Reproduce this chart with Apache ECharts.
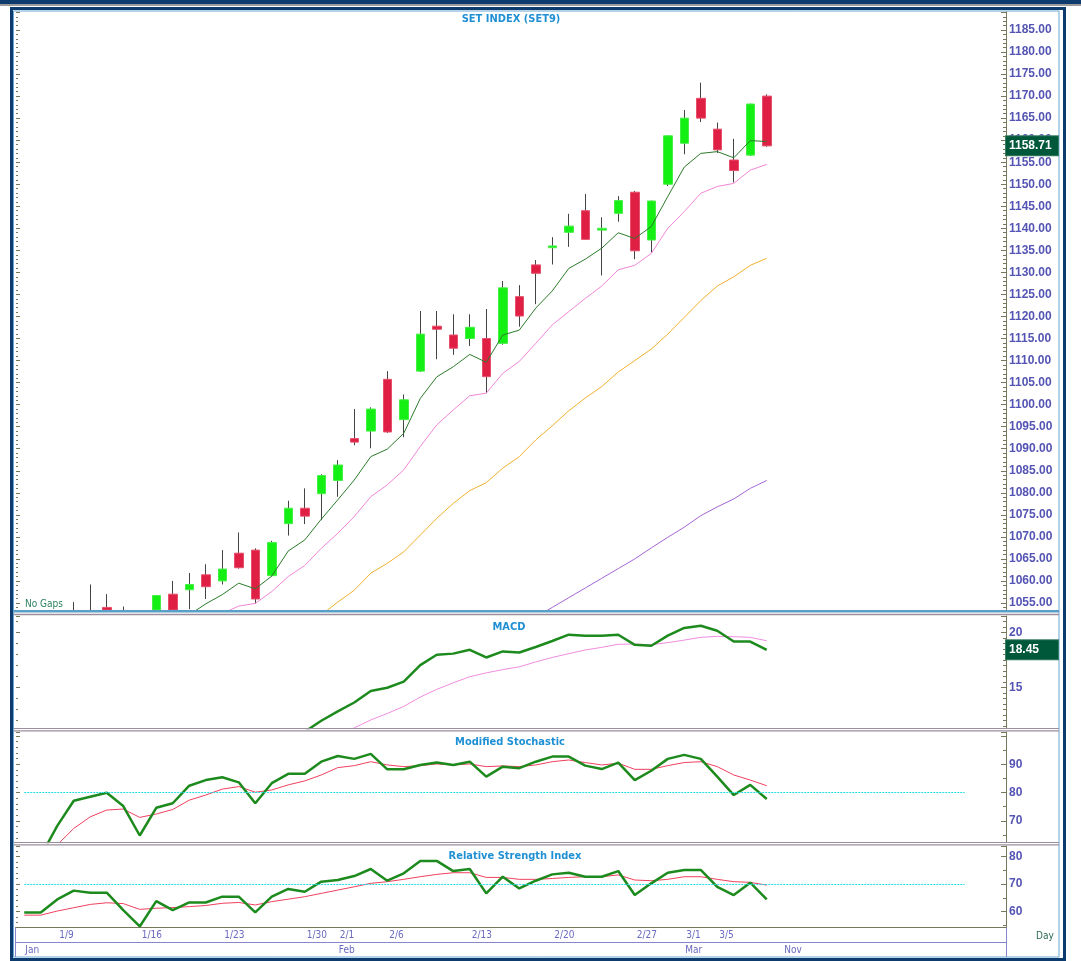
<!DOCTYPE html>
<html>
<head>
<meta charset="utf-8">
<title>SET INDEX (SET9)</title>
<script src="https://cdn.jsdelivr.net/npm/echarts@6/dist/echarts.min.js"></script>
<style>
  html, body { margin: 0; padding: 0; background: #fff; }
  #chart { width: 1081px; height: 961px; }
</style>
</head>
<body>
<div id="chart"></div>
<script>
// trading days on the chart
const dates = ['1/5','1/6','1/9','1/10','1/11','1/12','1/13','1/16','1/17','1/18','1/19','1/20',
  '1/23','1/24','1/25','1/26','1/27','1/30','1/31','2/1','2/2','2/3','2/6','2/7','2/8','2/9','2/10',
  '2/13','2/14','2/15','2/16','2/17','2/20','2/21','2/22','2/23','2/24','2/27','2/28','2/29',
  '3/1','3/2','3/5','3/6','3/7','3/8'];
// empty slots to the right of the last bar
const futureSlots = ['f1','f2','f3','f4','f5','f6','f7','f8','f9','f10','f11','f12','f13','f14'];

// OHLC
const opens = [1038, 1036, 1040, 1047, 1051, 1054.0, 1049, 1050, 1042, 1057.0, 1058.0, 1061.4,
  1060.0, 1066.3, 1067.0, 1061.2, 1073.0, 1076.5, 1079.8, 1082.8, 1092.3, 1094.0, 1105.75, 1096.6,
  1107.6, 1117.8, 1115.8, 1115.0, 1115.0, 1113.9, 1124.5, 1131.7, 1135.6, 1139.1, 1144.0, 1139.6,
  1143.4, 1148.2, 1137.35, 1150.0, 1159.3, 1169.5, 1162.5, 1155.5, 1156.6, 1170.0];
const closes = [1036, 1039, 1048, 1051, 1049, 1049, 1051, 1041, 1056.7, 1050, 1059.2, 1058.7,
  1062.7, 1063.0, 1055.9, 1068.7, 1076.5, 1074.7, 1083.9, 1086.3, 1091.5, 1099.0, 1093.8, 1101.1,
  1116.0, 1117.1, 1112.8, 1117.55, 1106.35, 1126.5, 1120.1, 1129.8, 1136.0, 1140.5, 1137.5, 1140.0,
  1146.3, 1134.9, 1146.2, 1161.0, 1165.0, 1165.0, 1157.8, 1153.1, 1168.2, 1158.71];
const lows = [1032, 1034, 1039, 1045, 1045, 1047, 1046, 1039, 1041, 1048, 1053.6, 1055.9,
  1059.2, 1062.8, 1054.9, 1061.0, 1070.3, 1072.9, 1073.8, 1079.1, 1090.8, 1090.1, 1093.6, 1092.6,
  1107.4, 1110.3, 1111.3, 1113.3, 1102.6, 1113.6, 1117.7, 1122.8, 1131.8, 1135.8, 1137.4, 1129.3,
  1141.5, 1133.0, 1134.5, 1149.6, 1156.8, 1164.1, 1157.1, 1150.4, 1156.4, 1158.5];
const highs = [1041, 1042, 1050, 1055.2, 1059.2, 1057.0, 1054.2, 1052, 1056.7, 1060.0, 1061.8, 1063.8,
  1067.0, 1071.0, 1067.4, 1069.1, 1078.2, 1081.0, 1084.2, 1087.4, 1099.0, 1099.4, 1107.6, 1102.3,
  1121.25, 1121.25, 1120.5, 1120.5, 1121.7, 1128.05, 1127.1, 1132.8, 1138.0, 1143.3, 1147.8, 1142.5,
  1147.3, 1148.5, 1146.3, 1161.1, 1166.85, 1173.05, 1164.0, 1160.3, 1168.3, 1170.4];

// moving averages
const ma5 = [null, null, null, null, null, null, null, null, null,
  1050.5, 1052.3, 1054.8, 1056.9, 1059.5, 1058.2, 1061.1, 1066.8, 1069.3, 1074.0, 1078.4, 1082.9,
  1088.2, 1089.9, 1093.5, 1101.4, 1106.3, 1108.6, 1111.4, 1109.6, 1115.8, 1116.9, 1121.9, 1125.8,
  1130.9, 1133.0, 1135.5, 1139.0, 1137.7, 1140.4, 1147.2, 1153.9, 1157.0, 1157.4, 1156.0, 1159.9, 1159.7];
const ma10 = [null, null, null, null, null, null, null, null, null, null, null, null,
  1052.6, 1054.3, 1054.9, 1057.6, 1061.0, 1063.5, 1067.4, 1070.8, 1074.6, 1079.1, 1081.8, 1085.2,
  1090.5, 1095.4, 1098.8, 1102.0, 1102.6, 1107.1, 1109.8, 1113.9, 1118.1, 1121.1, 1124.1, 1126.9,
  1130.6, 1131.6, 1134.3, 1140.0, 1143.8, 1147.95, 1149.5, 1150.2, 1153.2, 1154.5];
const ma25 = [null, null, null, null, null, null, null, null, null, null, null, null, null, null,
  null, null, null, null,
  1052.3, 1055.2, 1057.9, 1061.75, 1064.0, 1066.6, 1070.4, 1074.2, 1077.6, 1080.5, 1082.3, 1085.6,
  1088.2, 1092.0, 1095.2, 1098.6, 1101.5, 1104.1, 1107.4, 1110.0, 1112.6, 1116.0, 1119.8, 1123.6,
  1126.9, 1129.0, 1131.6, 1133.2];
const ma75 = [null, null, null, null, null, null, null, null, null, null, null, null, null, null,
  null, null, null, null, null, null, null, null, null, null, null, null, null, null, null, null, null,
  1051.8, 1054.0, 1056.2, 1058.4, 1060.6, 1062.8, 1065.0, 1067.5, 1069.9, 1072.2, 1074.8, 1076.8,
  1078.6, 1081.0, 1082.8];

// MACD
const macd = [null, null, null, null, null, null, null, null, null, null, null, null, null, null,
  null, null,
  10.2, 11.0, 12.0, 12.85, 13.66, 14.7, 15.0, 15.55, 17.06, 18.0, 18.1, 18.45, 17.75, 18.3, 18.2,
  18.7, 19.25, 19.82, 19.73, 19.73, 19.82, 18.9, 18.82, 19.73, 20.43, 20.64, 20.18, 19.2, 19.2, 18.45];
const macdSignal = [null, null, null, null, null, null, null, null, null, null, null, null, null,
  null, null, null, null, null, null,
  10.8, 11.35, 12.07, 12.66, 13.3, 14.15, 14.85, 15.45, 16.0, 16.35, 16.65, 16.9, 17.35, 17.75,
  18.1, 18.43, 18.67, 18.95, 18.97, 18.9, 19.1, 19.33, 19.58, 19.67, 19.64, 19.58, 19.27];

// Modified Stochastic
const stochK = [null, 57.5, 68.2, 77.1, 78.5, 79.9, 75.2, 64.8, 74.6, 76.2, 82.4, 84.4, 85.4, 83.6,
  76.2, 83.3, 86.6, 86.6, 90.9, 92.9, 91.9, 93.65, 88.2, 88.2, 89.75, 90.6, 89.75, 90.9, 85.6, 89.15,
  88.6, 90.9, 92.7, 92.7, 89.5, 88.3, 90.6, 84.4, 87.7, 91.9, 93.3, 91.9, 85.6, 79.1, 82.7, 77.7];
const stochD = [null, null, 61.5, 67.3, 71.4, 73.8, 74.15, 71.2, 72.4, 74.0, 77.3, 79.1, 81.2, 82.1,
  80.1, 80.9, 82.7, 84.1, 86.2, 88.8, 89.5, 90.9, 89.75, 89.15, 89.5, 90.1, 89.75, 90.1, 89.15, 89.4,
  89.15, 89.75, 90.9, 91.5, 90.6, 89.75, 90.35, 88.2, 88.2, 89.5, 90.6, 90.9, 89.15, 86.2, 84.4, 82.4];

// Relative Strength Index
const rsi = [59.7, 59.7, 64.4, 67.6, 66.85, 66.85, 60.5, 54.6, 63.8, 60.5, 63.3, 63.3, 65.4, 65.4,
  59.7, 65.4, 68.2, 67.2, 70.85, 71.45, 72.9, 75.45, 71.2, 73.9, 78.4, 78.4, 74.7, 75.45, 66.6, 72.65,
  68.4, 71.2, 73.5, 74.1, 72.65, 72.65, 74.7, 66.0, 70.25, 74.1, 75.1, 75.1, 69.0, 66.0, 70.5, 64.4];
const rsiMa = [58.7, 58.7, 60.2, 61.4, 62.6, 63.2, 62.9, 60.8, 61.2, 61.45, 61.8, 62.2, 63.0, 63.3,
  62.4, 63.6, 64.5, 65.4, 66.6, 67.8, 69.0, 70.25, 70.85, 71.7, 72.65, 73.5, 74.1, 74.1, 72.4, 72.4,
  71.7, 71.7, 72.0, 72.4, 72.65, 72.65, 73.3, 71.45, 71.2, 71.7, 72.65, 72.65, 71.7, 70.85, 70.6, 69.6];

// tick labels
const priceLabels = [1055, 1060, 1065, 1070, 1075, 1080, 1085, 1090, 1095, 1100, 1105, 1110, 1115,
  1120, 1125, 1130, 1135, 1140, 1145, 1150, 1155, 1160, 1165, 1170, 1175, 1180, 1185];
const macdLabels = [15, 20];
const stochLabels = [70, 80, 90];
const rsiLabels = [60, 70, 80];
const dayTicks = ['1/9', '1/16', '1/23', '1/30', '2/1', '2/6', '2/13', '2/20', '2/27', '3/1', '3/5'];
const monthTicks = { '1/5': 'Jan', '2/1': 'Feb', '3/1': 'Mar', 'f1': 'Nov' };

const categories = dates.concat(futureSlots);

const chart = echarts.init(document.getElementById('chart'));

const priceMin = 1053.41;
const priceMax = 1189.08;

const narrow = '"DejaVu Sans Condensed", "Liberation Sans", sans-serif';
const labelFont = '"Liberation Sans", Arial, sans-serif';
const tickColor = '#77775a';
const labelBlue = '#5454b4';
const titleBlue = '#1f90d4';
const navy = '#0d3b6e';
const frameBlue = '#6aa7d1';
const mauve = '#9d8e9d';
const lavender = '#8686cc';

function rightAxis(gridIndex, min, max, splitNumber, minorSplit, labels, digits) {
  return {
    type: 'value', gridIndex, position: 'right', min, max, splitNumber,
    axisLine: { show: true, lineStyle: { color: tickColor } },
    axisTick: { show: true, inside: true, length: 5, lineStyle: { color: tickColor } },
    minorTick: { show: true, splitNumber: minorSplit, length: 3, lineStyle: { color: tickColor } },
    splitLine: { show: false },
    minorSplitLine: { show: false },
    axisLabel: {
      showMinLabel: false, showMaxLabel: false, margin: 3,
      color: labelBlue, fontFamily: labelFont, fontSize: 12, fontWeight: 'bold',
      formatter: v => labels.some(l => Math.abs(l - v) < 1e-6) ? v.toFixed(digits) : ''
    }
  };
}

function leftAxis(gridIndex, min, max, splitNumber, minorSplit) {
  return {
    type: 'value', gridIndex, position: 'left', min, max, splitNumber,
    axisLine: { show: false },
    axisTick: { show: true, inside: true, length: 4, lineStyle: { color: tickColor } },
    minorTick: { show: true, splitNumber: minorSplit, length: 2, lineStyle: { color: tickColor } },
    splitLine: { show: false },
    axisLabel: { show: false }
  };
}

function hiddenX(gridIndex) {
  return { type: 'category', gridIndex, data: categories, boundaryGap: true, show: false };
}

function lineSeries(xi, yi, data, color, width) {
  return {
    type: 'line', xAxisIndex: xi, yAxisIndex: yi, data,
    symbol: 'none', showSymbol: false, silent: true,
    lineStyle: { color, width }
  };
}

function lastValueBox(value, digits) {
  return {
    symbol: 'none', silent: true,
    lineStyle: { color: 'rgba(0,0,0,0)' },
    data: [{ yAxis: value }],
    label: {
      position: 'end', distance: 0, opacity: 1,
      formatter: p => Number(p.value).toFixed(digits),
      color: '#fff', backgroundColor: '#00583a', borderColor: '#3b7d62', borderWidth: 1,
      width: 46, padding: [4, 3, 3, 3],
      fontFamily: labelFont, fontSize: 12, fontWeight: 'bold'
    }
  };
}

function guide(value) {
  return {
    symbol: 'none', silent: true,
    lineStyle: { color: '#22dfe6', type: [2, 1], width: 1 },
    label: { show: false },
    data: [[{ coord: [0, value] }, { coord: [57, value] }]]
  };
}

function hline(y, color, width) {
  return { type: 'line', z: 100, shape: { x1: 14, y1: y, x2: 1059, y2: y }, style: { stroke: color, lineWidth: width } };
}

function vline(x, y1, y2, color) {
  return { type: 'line', shape: { x1: x, y1, x2: x, y2 }, style: { stroke: color, lineWidth: 1 } };
}

function caption(text, x, y, align, color, font) {
  return { type: 'text', x, y, style: { text, fill: color, font, textAlign: align, textVerticalAlign: 'middle' } };
}

// candlestick boxes are not cut at the grid edge, so parts below the axis are held at its floor
const floor = v => Math.max(v, priceMin);
const wickData = dates.map((d, i) => highs[i] < priceMin
  ? [opens[i], closes[i], lows[i], highs[i]]
  : [floor(opens[i]), floor(closes[i]), floor(lows[i]), highs[i]]);
const bodyData = dates.map((d, i) => {
  const lo = Math.min(opens[i], closes[i]);
  const hi = Math.max(opens[i], closes[i]);
  return hi < priceMin ? [opens[i], closes[i], lo, hi] : [floor(opens[i]), floor(closes[i]), floor(lo), hi];
});

const option = {
  animation: false,
  backgroundColor: '#fff',
  grid: [
    { left: 16, right: 75, top: 12, height: 598 },
    { left: 16, right: 75, top: 616, height: 112 },
    { left: 16, right: 75, top: 732, height: 110 },
    { left: 16, right: 75, top: 846, height: 81 }
  ],
  xAxis: [
    hiddenX(0), hiddenX(1), hiddenX(2),
    {
      type: 'category', gridIndex: 3, data: categories, boundaryGap: true, position: 'bottom',
      axisLine: { lineStyle: { color: tickColor } },
      axisTick: { alignWithLabel: true, length: 14, interval: (i, v) => dayTicks.includes(v), lineStyle: { color: lavender } },
      axisLabel: { interval: (i, v) => dayTicks.includes(v), align: 'left', padding: [0, 0, 0, 2], margin: 3,
        color: '#6a6ac0', fontFamily: narrow, fontSize: 10 }
    },
    {
      type: 'category', gridIndex: 3, data: categories, boundaryGap: true, position: 'bottom', offset: 15,
      axisLine: { lineStyle: { color: lavender } },
      axisTick: { alignWithLabel: true, length: 15, interval: (i, v) => v in monthTicks && v !== '1/5', lineStyle: { color: lavender } },
      axisLabel: { interval: (i, v) => v in monthTicks, formatter: v => monthTicks[v] || '', align: 'left',
        padding: [0, 0, 0, 1], margin: 3, color: '#6a6ac0', fontFamily: narrow, fontSize: 10 }
    }
  ],
  yAxis: [
    rightAxis(0, priceMin, priceMax, 27, 5, priceLabels, 2),
    leftAxis(0, priceMin, priceMax, 27, 5),
    rightAxis(1, 11.34, 21.52, 2, 10, macdLabels, 0),
    leftAxis(1, 11.34, 21.52, 2, 5),
    rightAxis(2, 62.5, 101.4, 4, 2, stochLabels, 0),
    leftAxis(2, 62.5, 101.4, 4, 5),
    rightAxis(3, 54.4, 83.8, 3, 2, rsiLabels, 0),
    leftAxis(3, 54.4, 83.8, 3, 5)
  ],
  series: [
    {
      type: 'candlestick', xAxisIndex: 0, yAxisIndex: 0, data: wickData, barWidth: 1, silent: true,
      itemStyle: { color: '#444', color0: '#444', borderColor: '#444', borderColor0: '#444', borderWidth: 1 }
    },
    {
      type: 'candlestick', xAxisIndex: 0, yAxisIndex: 0, data: bodyData, barWidth: 9, silent: true,
      itemStyle: { color: '#14ef14', color0: '#e01f44', borderColor: '#45f045', borderColor0: '#e6506c', borderWidth: 1 },
      markLine: lastValueBox(closes[closes.length - 1], 2)
    },
    lineSeries(0, 0, ma5, '#2c7a2c', 1),
    lineSeries(0, 0, ma10, '#f086d8', 1),
    lineSeries(0, 0, ma25, '#f0b030', 1),
    lineSeries(0, 0, ma75, '#a565d6', 1),
    lineSeries(1, 2, macdSignal, '#f08ce0', 1),
    Object.assign(lineSeries(1, 2, macd, '#1d8a1d', 2.5), { markLine: lastValueBox(macd[macd.length - 1], 2) }),
    Object.assign(lineSeries(2, 4, stochD, '#f0405e', 1), { markLine: guide(80) }),
    lineSeries(2, 4, stochK, '#1d8a1d', 2.5),
    Object.assign(lineSeries(3, 6, rsiMa, '#f0405e', 1), { markLine: guide(70) }),
    lineSeries(3, 6, rsi, '#1d8a1d', 2.5)
  ],
  graphic: [
    { type: 'rect', shape: { x: 0, y: 0, width: 1081, height: 4 }, style: { fill: navy } },
    { type: 'rect', shape: { x: 0, y: 4, width: 1081, height: 2 }, style: { fill: '#9a9a9a' } },
    { type: 'rect', shape: { x: 11.5, y: 8.5, width: 1053, height: 951 }, style: { fill: 'none', stroke: navy, lineWidth: 3 } },
    { type: 'rect', shape: { x: 13.5, y: 11, width: 1045.5, height: 946 }, style: { fill: 'none', stroke: frameBlue, lineWidth: 1 } },
    { type: 'rect', z: 100, shape: { x: 14, y: 610, width: 1045, height: 2.5 }, style: { fill: '#5a9fc8' } },
    hline(614.5, mauve, 1.5),
    hline(728.5, mauve, 1.2),
    hline(730.8, mauve, 1.2),
    hline(842.5, mauve, 1.2),
    hline(844.8, mauve, 1.2),
    vline(15.5, 927, 957, lavender),
    vline(1006.5, 927, 957, lavender),
    caption('SET INDEX (SET9)', 511, 19, 'center', titleBlue, 'bold 11px ' + narrow),
    caption('MACD', 509, 627, 'center', titleBlue, 'bold 11px ' + narrow),
    caption('Modified Stochastic', 510, 742, 'center', titleBlue, 'bold 11px ' + narrow),
    caption('Relative Strength Index', 515, 856, 'center', titleBlue, 'bold 11px ' + narrow),
    caption('No Gaps', 25, 604, 'left', '#2f8060', '10px ' + narrow),
    caption('Day', 1036, 936, 'left', '#2a6a50', '10px ' + narrow)
  ]
};

chart.setOption(option);
</script>
</body>
</html>
